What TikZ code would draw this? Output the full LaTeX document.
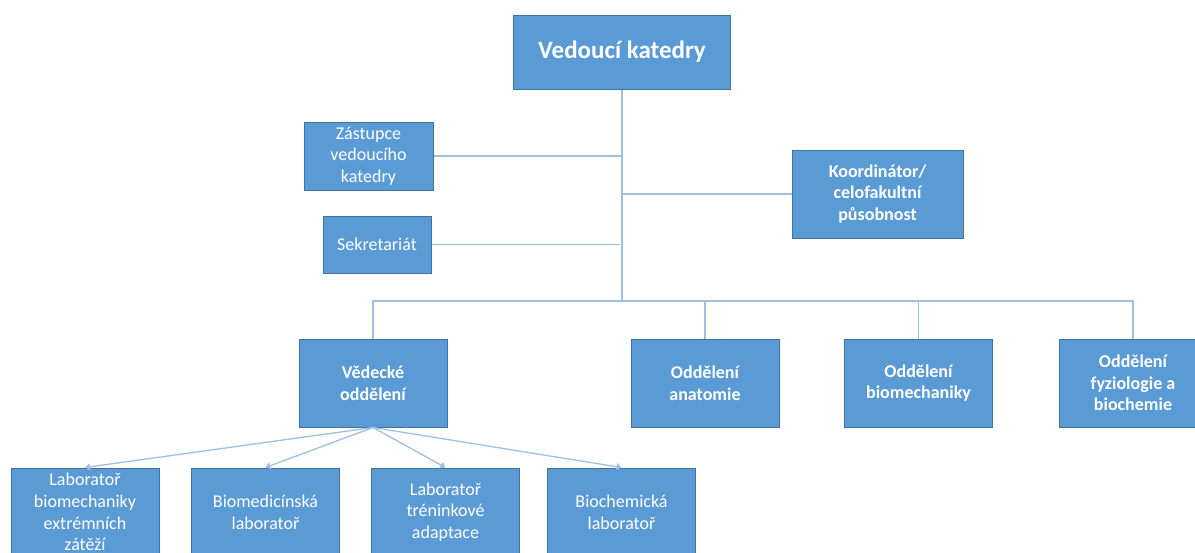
\documentclass[tikz,border=0pt]{standalone}
\usepackage{fontspec}
\setmainfont{Carlito}
\usetikzlibrary{arrows.meta}
\definecolor{boxblue}{RGB}{91,155,213}
\definecolor{boxedge}{RGB}{65,113,156}
\definecolor{linkblue}{RGB}{160,192,224}
\tikzset{
  orgbox/.style={draw=boxedge, line width=1pt, fill=boxblue, text=white, align=center,
    inner sep=0pt, font=\fontsize{18}{21.7}\selectfont},
  boldbox/.style={orgbox, font=\fontsize{18}{21.7}\selectfont\bfseries},
  unitbox/.style={boldbox, minimum width=148pt, minimum height=88pt},
  labbox/.style={orgbox, minimum width=148pt, minimum height=88pt},
  link/.style={draw=linkblue, line width=1.3pt},
  arr/.style={link, -{Triangle[length=5pt,width=7pt]}}
}
\begin{document}
\begin{tikzpicture}[x=1pt,y=-1pt]
\useasboundingbox (0,0) rectangle (1195,552);
\clip (0,0) rectangle (1195,552);
% head and staff
\node[boldbox, font=\fontsize{25}{30}\selectfont\bfseries, minimum width=217pt, minimum height=74pt] (vedouci) at (622,52) {Vedoucí katedry};
\node[orgbox, minimum width=129pt, minimum height=68pt] (zastupce) at (368.5,156) {Zástupce\\vedoucího\\katedry};
\node[orgbox, minimum width=108pt, minimum height=57pt] (sekretariat) at (377,244.5) {Sekretariát};
\node[boldbox, minimum width=171pt, minimum height=88pt] (koordinator) at (877.5,194) {Koordinátor/\\celofakultní\\působnost};
% departments
\node[unitbox] (vedecke) at (373,383) {Vědecké\\oddělení};
\node[unitbox] (anatomie) at (705,383) {Oddělení\\anatomie};
\node[unitbox] (biomech) at (918.5,383) {Oddělení\\biomechaniky};
\node[unitbox] (fyzio) at (1133,383) {Oddělení\\fyziologie a\\biochemie};
% laboratories
\node[labbox] (lab1) at (85,512) {Laboratoř\\biomechaniky\\extrémních\\zátěží};
\node[labbox] (lab2) at (265.5,512) {Biomedicínská\\laboratoř};
\node[labbox] (lab3) at (445.5,512) {Laboratoř\\tréninkové\\adaptace};
\node[labbox] (lab4) at (621.5,512) {Biochemická\\laboratoř};
% connectors
\coordinate (busc) at (622,301);
\draw[link] (vedouci.south) -- (busc);
\draw[link] (zastupce.east) -- (zastupce.east -| busc);
\draw[link] (sekretariat.east) -- ([xshift=-2pt]sekretariat.east -| busc);
\draw[link] (koordinator.west) -- (koordinator.west -| busc);
\draw[link] (vedecke.north) |- (busc) -| (fyzio.north);
\draw[link] (anatomie.north) -- (anatomie.north |- busc);
\draw[link] (biomech.north) -- (biomech.north |- busc);
\foreach \lab in {lab1,lab2,lab3,lab4}
  \draw[arr] (vedecke.south) -- (\lab.north);
\end{tikzpicture}
\end{document}
